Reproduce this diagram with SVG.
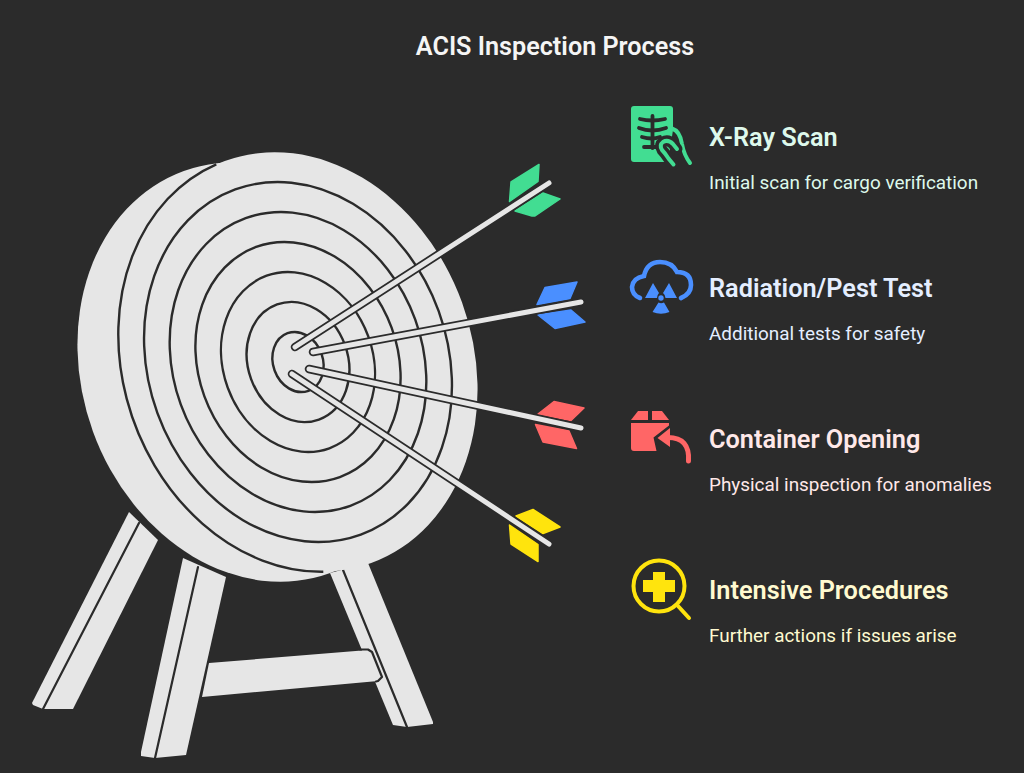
<svg xmlns="http://www.w3.org/2000/svg" width="1024" height="773" viewBox="0 0 1024 773">
<style>
.bg{fill:#2b2b2b}
.w{fill:#e6e6e6}
.ln{fill:none;stroke:#2b2b2b;stroke-width:2.200;stroke-linecap:round;stroke-linejoin:round}
.ring{fill:none;stroke:#2b2b2b;stroke-width:2.400}
.sh0{stroke:#2b2b2b;stroke-width:8.500;stroke-linecap:round;fill:none}
.sh1{stroke:#e6e6e6;stroke-width:5;stroke-linecap:round;fill:none}
text{font-family:Roboto,"Liberation Sans",sans-serif}
.t{font-size:25.300px;font-weight:600}
.d{font-size:18.900px;font-weight:400}
.g{stroke-linejoin:round;stroke-width:1.500}
</style>
<rect class="bg" width="1024" height="773"/>
<text x="555" y="55" text-anchor="middle" font-size="25.200" font-weight="600" fill="#f5f5f5">ACIS Inspection Process</text>
<g id="stand">
<path class="w" d="M129 512L32 703L33 705L43 709L73 709L158 540Z"/>
<path class="ln" d="M139 523L43 709"/>
<path class="w" d="M183 558L141 752L141 756L155 758L186 755L226 577Z"/>
<path class="ln" d="M198 567L155 758"/>
<path class="w" d="M330 573L393 725L407 727L433 724L433 722L368 563Z"/>
<path class="ln" d="M343 570L407 727"/>
<path class="w" d="M209 663L368 650L372 652L382 678L378 681L202 697Z"/>
<path class="ln" d="M360 649.500L368 649.500L372 652L382 677L378 681L376 681.500"/>
</g>
<g id="target">
<ellipse class="w" cx="257" cy="372" rx="174.500" ry="214" transform="rotate(-20 257 372)"/>
<ellipse class="w" cx="298" cy="362" rx="174.500" ry="214" transform="rotate(-20 298 362)"/>
<path class="ring" d="M216.300 164.300A174.500 214 -20 0 0 323.300 571.800"/>
<g transform="rotate(-20 298 362)">
<ellipse class="ring" cx="298" cy="362" rx="149.600" ry="183.600"/>
<ellipse class="ring" cx="298" cy="362" rx="124.700" ry="153"/>
<ellipse class="ring" cx="298" cy="362" rx="99.700" ry="122.400"/>
<ellipse class="ring" cx="298" cy="362" rx="74.800" ry="91.800"/>
<ellipse class="ring" cx="298" cy="362" rx="49.900" ry="61.200"/>
<ellipse class="ring" cx="298" cy="362" rx="24.900" ry="30.600"/>
</g>
</g>
<g id="arrow-green">
<polygon class="g" fill="#42dd92" stroke="#42dd92" points="539,164.500 538,181.500 509.500,201.500 511,182"/>
<polygon class="g" fill="#42dd92" stroke="#42dd92" points="543,193 560,199 535,216 532,216 515,211"/>
<path class="sh0" d="M295 347L549 183"/><path class="sh1" d="M295 347L549 183"/>
</g>
<g id="arrow-blue">
<polygon class="g" fill="#4a8fff" stroke="#4a8fff" points="577,282 570,298.500 537,304.500 545,287.500"/>
<polygon class="g" fill="#4a8fff" stroke="#4a8fff" points="571,310 585,322 555,328.500 538,315"/>
<path class="sh0" d="M313 352L581 302"/><path class="sh1" d="M313 352L581 302"/>
</g>
<g id="arrow-red">
<polygon class="g" fill="#ff6666" stroke="#ff6666" points="554,401.500 584,408 571,420.500 538,414"/>
<polygon class="g" fill="#ff6666" stroke="#ff6666" points="535.500,424.500 569,431 576.500,448.500 543,442"/>
<path class="sh0" d="M309 369L581 428"/><path class="sh1" d="M309 369L581 428"/>
</g>
<g id="arrow-yellow">
<polygon class="g" fill="#ffe40d" stroke="#ffe40d" points="533,509.500 560,527 543,533.500 516,516"/>
<polygon class="g" fill="#ffe40d" stroke="#ffe40d" points="509.500,525 538,544.500 538,561.500 511,544"/>
<path class="sh0" d="M292 374L549 544"/><path class="sh1" d="M292 374L549 544"/>
</g>
<g id="xray-scan">
<path fill="#42dd92" d="M634 106H670Q673 106 673 109V130L668 162H634Q631 162 631 159V109Q631 106 634 106Z"/>
<path d="M672 128.500Q680 131 682 144Q684 155 690 163" fill="none" stroke="#42dd92" stroke-width="4" stroke-linecap="round"/>
<g fill="none" stroke="#2b2b2b" stroke-width="3.800" stroke-linecap="round">
<path d="M652.500 116V148"/>
<path d="M640 119Q652 122 665 119"/>
<path d="M639 128Q652 133 666 128"/>
<path d="M642 137Q652 140 660 137"/>
<path d="M644 147H660"/>
</g>
<path d="M673.500 164.500L668.500 158.500Q665 153 662 150Q659 145 663 142Q668 139 673 144L677 149" fill="none" stroke="#2b2b2b" stroke-width="11" stroke-linecap="round"/>
<path d="M673.500 164.500L668.500 158.500Q665 153 662 150Q659 145 663 142Q668 139 673 144L677 149" fill="none" stroke="#42dd92" stroke-width="4" stroke-linecap="round"/>
<text class="t" x="709" y="146" fill="#def9ec">X-Ray Scan</text>
<text class="d" x="709" y="188.700" fill="#def9ec">Initial scan for cargo verification</text>
</g>
<g id="radiation-test">
<path d="M640 298Q632 295 632 287Q633 278 644 276Q647 262 660 262Q672 262 677 272Q691 272 691 285Q691 294 681 298" fill="none" stroke="#4a8fff" stroke-width="4.600" stroke-linecap="round"/>
<circle cx="661" cy="298" r="2.700" fill="#4a8fff"/>
<path fill="#4a8fff" d="M653 283L645 298H657Q657 295 659 293Z"/>
<path fill="#4a8fff" d="M669 283L677 298H665.500Q665.500 295 663 293Z"/>
<path fill="#4a8fff" d="M652.500 312L658.500 302.500Q661 304 664 302.500L669.500 312Q661 315.500 652.500 312Z"/>
<text class="t" x="709" y="297" fill="#e4eeff">Radiation/Pest Test</text>
<text class="d" x="709" y="339.700" fill="#e4eeff">Additional tests for safety</text>
</g>
<g id="container-opening">
<path fill="#ff6666" d="M631 423H669V425.500L653.500 437.500L656.500 451H634Q631 451 631 448Z"/>
<path fill="#ff6666" d="M638 411H648V420H631Z"/>
<path fill="#ff6666" d="M652 411H662L669 420H652Z"/>
<path fill="#ff6666" d="M670 428L657.500 438L670 447Z"/>
<path d="M668 437.500Q690 437.500 688.500 461" fill="none" stroke="#ff6666" stroke-width="5" stroke-linecap="round"/>
<text class="t" x="709" y="448" fill="#ffe8e8">Container Opening</text>
<text class="d" x="709" y="490.700" fill="#ffe8e8">Physical inspection for anomalies</text>
</g>
<g id="intensive-procedures">
<circle cx="659" cy="586" r="25.500" fill="none" stroke="#ffe40d" stroke-width="4"/>
<path fill="#ffe40d" d="M653 572H665V580H675V592H665V602H653V592H643V580H653Z"/>
<path d="M678 606L689 618" fill="none" stroke="#ffe40d" stroke-width="4" stroke-linecap="round"/>
<text class="t" x="709" y="599" fill="#fffad0">Intensive Procedures</text>
<text class="d" x="709" y="641.700" fill="#fffad0">Further actions if issues arise</text>
</g>
</svg>
